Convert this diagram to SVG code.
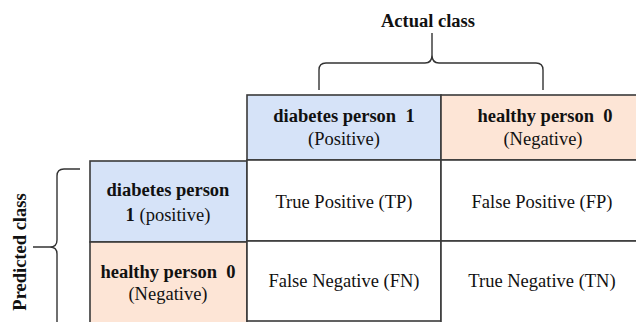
<svg xmlns="http://www.w3.org/2000/svg" width="636" height="322" viewBox="0 0 636 322">
<style>
text{font-family:"Liberation Serif","Times New Roman",serif;font-size:18.5px;fill:#111;text-anchor:middle;white-space:pre}
.b{font-weight:bold}
.cell{stroke:#3a3a3a;stroke-width:1.6}
.pos{fill:#d6e3f8}
.neg{fill:#fde5d6}
.wh{fill:#fff}
.brace{fill:none;stroke:#333;stroke-width:1.4}
</style>
<rect width="636" height="322" fill="#fff"/>
<g id="actual-label"><text class="b" x="428" y="27">Actual class</text></g>
<g id="predicted-label"><text class="b" transform="translate(26,252) rotate(-90)">Predicted class</text></g>
<g id="braces">
<path class="brace" d="M319,90 L319,70 Q319,63 326,63 L425,63 Q432,63 432,55 L432,33 M432,55 Q432,63 439,63 L536,63 Q543,63 543,70 L543,90"/>
<path class="brace" d="M80,169 L64,169 Q57,169 57,176 L57,240 Q57,247 50,247 L33,247 M50,247 Q57,247 57,254 L57,322"/>
</g>
<g id="hdr-pos"><rect class="cell pos" x="247" y="95" width="194" height="65"/>
<text class="b" x="344" y="122">diabetes person  1</text><text x="344" y="145">(Positive)</text></g>
<g id="hdr-neg"><rect class="cell neg" x="441" y="95" width="200" height="65"/>
<text class="b" x="545" y="122">healthy person  0</text><text x="543" y="145">(Negative)</text></g>
<g id="row-pos"><rect class="cell pos" x="90" y="161" width="157" height="81"/>
<text class="b" x="168" y="196">diabetes person</text><text x="168" y="221"><tspan class="b">1</tspan> (positive)</text></g>
<g id="row-neg"><rect class="cell neg" x="90" y="242" width="157" height="85"/>
<text class="b" x="168" y="278">healthy person  0</text><text x="168" y="300">(Negative)</text></g>
<g id="tp"><rect class="cell wh" x="247" y="160" width="194" height="81"/><text x="344" y="208">True Positive (TP)</text></g>
<g id="fp"><rect class="cell wh" x="441" y="160" width="200" height="81"/><text x="542" y="208">False Positive (FP)</text></g>
<g id="fn"><rect class="cell wh" x="247" y="241" width="194" height="80"/><text x="344" y="287">False Negative (FN)</text></g>
<g id="tn"><rect class="cell wh" x="441" y="241" width="200" height="86"/><text x="542" y="287">True Negative (TN)</text></g>
</svg>
